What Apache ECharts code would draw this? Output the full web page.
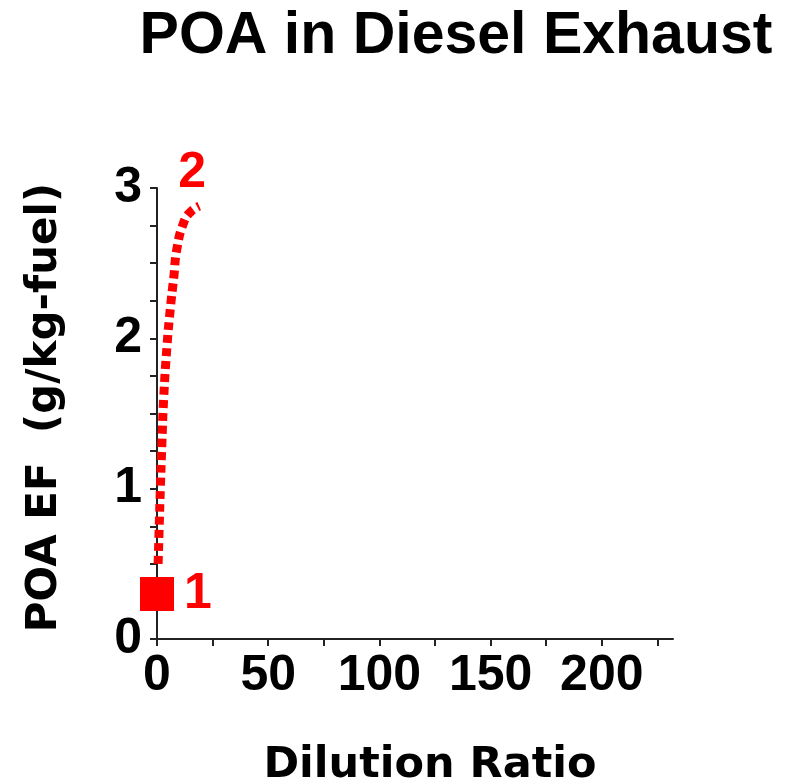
<!DOCTYPE html>
<html>
<head>
<meta charset="utf-8">
<script src="https://cdn.jsdelivr.net/npm/echarts@6/dist/echarts.min.js"></script>
<style>
  html, body { margin: 0; padding: 0; background: #fff; }
  #chart { width: 785px; height: 783px; }
</style>
</head>
<body>
<div id="chart"></div>
<script>
// dilution ratio vs POA emission factor
const curveX = [0.5, 1, 1.5, 2.2, 3, 4.5, 6, 7.5, 9, 12, 15, 19];
const curveY = [0.5, 0.75, 1.0, 1.3, 1.6, 1.95, 2.2, 2.4, 2.6, 2.77, 2.84, 2.88];
const squarePoint = [0, 0.3];
const xTicks = [0, 25, 50, 75, 100, 125, 150, 175, 200, 225];
const xLabels = [0, 50, 100, 150, 200];
const yTicks = [0, 0.25, 0.5, 0.75, 1, 1.25, 1.5, 1.75, 2, 2.25, 2.5, 2.75, 3];
const yLabels = [0, 1, 2, 3];

const arial = "'Liberation Sans', Arial, sans-serif";

const chart = echarts.init(document.getElementById("chart"));
chart.setOption({
  animation: false,
  backgroundColor: "#fff",
  title: {
    text: "POA in Diesel Exhaust",
    left: 451,
    top: 2,
    textAlign: "center",
    textStyle: { fontFamily: arial, fontWeight: "bold", fontSize: 59, color: "#000" },
  },
  grid: { left: 157, right: 112, top: 188, bottom: 144, containLabel: false, outerBoundsMode: "none" },
  xAxis: {
    type: "value",
    min: 0,
    max: 232,
    name: "Dilution Ratio",
    nameLocation: "middle",
    nameGap: 105,
    nameTextStyle: { fontFamily: "'DejaVu Sans', sans-serif", fontWeight: "bold", fontSize: 43, color: "#000", padding: [0, 0, 0, 30] },
    axisLine: { lineStyle: { color: "#222", width: 2 } },
    axisTick: { customValues: xTicks, length: 7, lineStyle: { color: "#222", width: 2 } },
    axisLabel: { customValues: xLabels, margin: 12, fontFamily: arial, fontWeight: "bold", fontSize: 50, color: "#000" },
    splitLine: { show: false },
  },
  yAxis: {
    type: "value",
    min: 0,
    max: 3,
    name: "POA EF  (g/kg-fuel)",
    nameLocation: "middle",
    nameGap: 91,
    nameTextStyle: { fontFamily: "'DejaVu Sans', sans-serif", fontWeight: "bold", fontSize: 42, color: "#000", padding: [0, 0, 0, 12] },
    axisLine: { show: true, lineStyle: { color: "#222", width: 2 } },
    axisTick: { show: true, customValues: yTicks, length: 7, lineStyle: { color: "#222", width: 2 } },
    axisLabel: { customValues: yLabels, margin: 15, fontFamily: arial, fontWeight: "bold", fontSize: 50, color: "#000" },
    splitLine: { show: false },
  },
  series: [
    {
      type: "line",
      data: curveX.map((x, i) => [x, curveY[i]]),
      smooth: true,
      showSymbol: false,
      symbol: "none",
      lineStyle: { color: "#ff0000", width: 9, type: [8, 5], cap: "butt" },
      z: 3,
    },
    {
      type: "scatter",
      data: [squarePoint],
      symbol: "rect",
      symbolSize: 34,
      itemStyle: { color: "#ff0000", opacity: 1 },
      label: {
        show: true,
        position: "right",
        distance: 10,
        formatter: "1",
        fontFamily: arial,
        fontWeight: "bold",
        fontSize: 50,
        color: "#ff0000",
      },
      z: 4,
    },
    {
      type: "scatter",
      data: [[curveX[curveX.length - 1], curveY[curveY.length - 1]]],
      symbolSize: 0,
      itemStyle: { opacity: 1 },
      label: {
        show: true,
        position: "top",
        distance: 8,
        offset: [-7, 0],
        formatter: "2",
        fontFamily: arial,
        fontWeight: "bold",
        fontSize: 50,
        color: "#ff0000",
      },
    },
  ],
});
</script>
</body>
</html>
